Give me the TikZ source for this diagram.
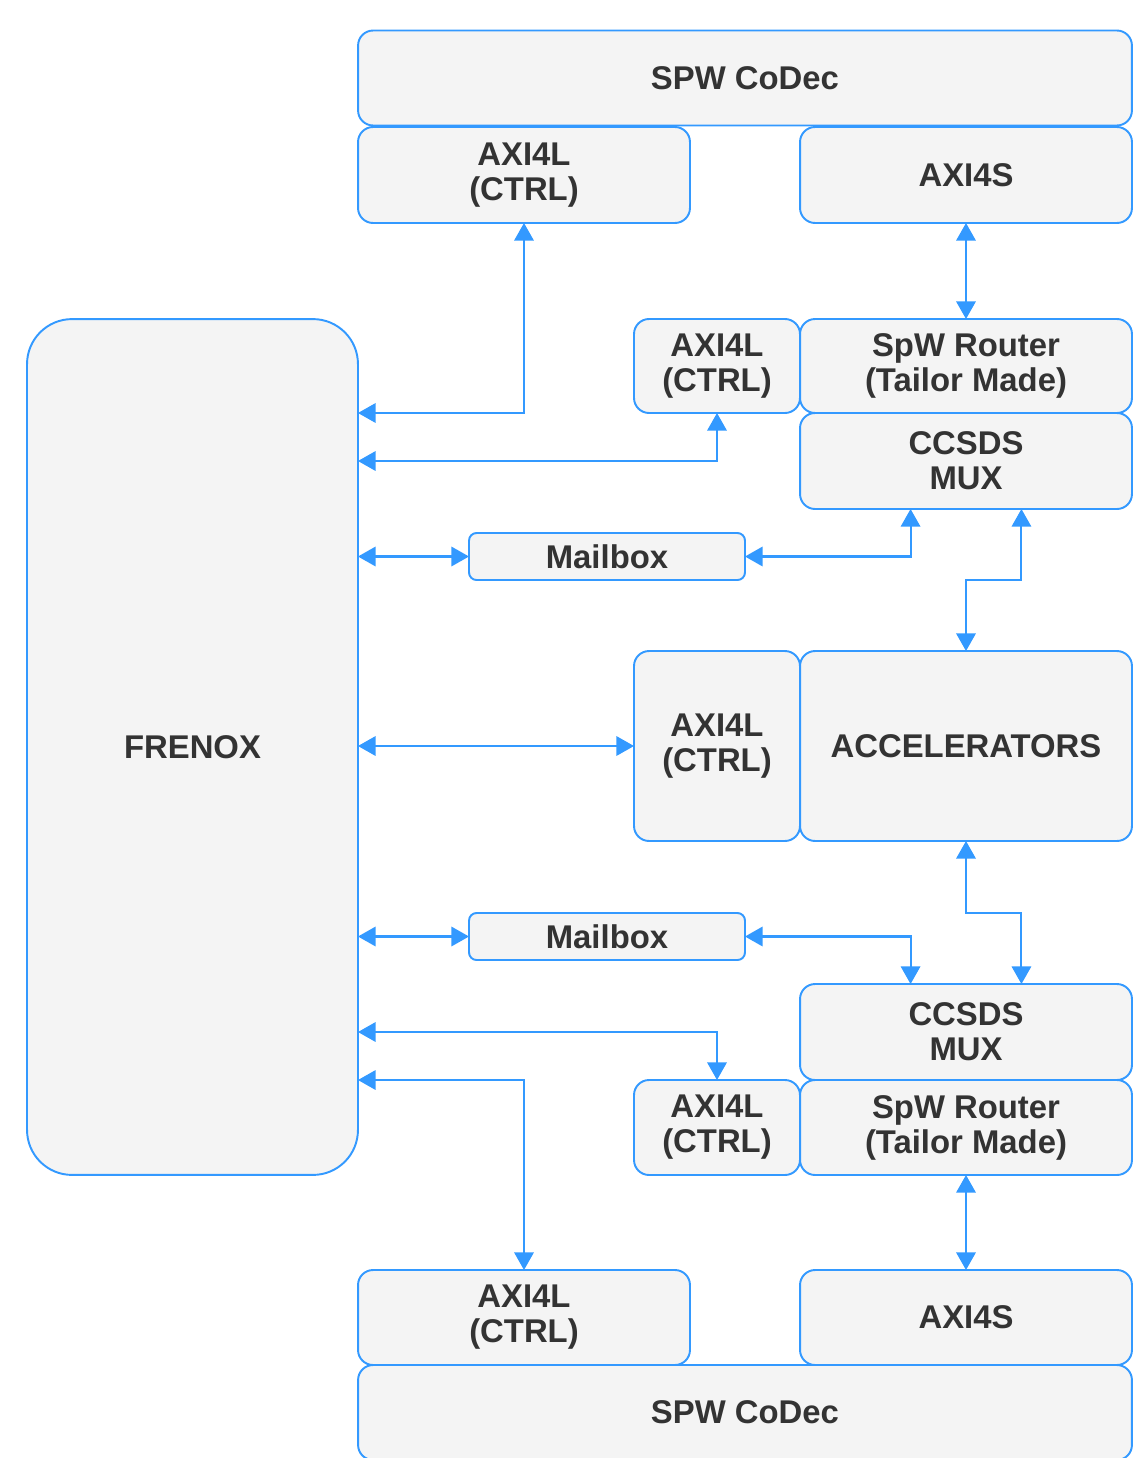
\documentclass[tikz,border=0pt]{standalone}
\usepackage{fontspec}
\setmainfont{Liberation Sans}
\usetikzlibrary{arrows.meta, positioning, calc}
\definecolor{edgeblue}{HTML}{3399FF}
\definecolor{boxfill}{HTML}{F4F4F4}
\definecolor{txtgray}{HTML}{333333}

\begin{document}
\begin{tikzpicture}[x=0.02cm, y=-0.02cm,
    blk/.style={draw=edgeblue, line width=1.1pt, fill=boxfill, rounded corners=0.3cm,
      text=txtgray, font=\fontsize{18.7}{20}\selectfont\bfseries, align=center,
      inner sep=0pt, outer sep=0pt},
    link/.style={draw=edgeblue, line width=1.2pt,
      {Triangle[length=10pt, width=11pt]}-{Triangle[length=10pt, width=11pt]}}]
      \useasboundingbox (0,0) rectangle (1133,1458);
      % top side
      \node[blk, minimum width=15.48cm, minimum height=1.9cm] (codecT) at (745,78) {SPW CoDec};
      \node[blk, minimum width=6.64cm, minimum height=1.92cm] (axiT) at (524,175) {AXI4L\\(CTRL)};
      \node[blk, minimum width=6.64cm, minimum height=1.92cm] (axisT) at (966,175) {AXI4S};
      \node[blk, minimum width=3.32cm, minimum height=1.88cm] (axiA) at (717,366) {AXI4L\\(CTRL)};
      \node[blk, minimum width=6.64cm, minimum height=1.88cm] (routerT) at (966,366) {SpW Router\\(Tailor Made)};
      \node[blk, minimum width=6.64cm, minimum height=1.92cm] (muxT) at (966,461) {CCSDS\\MUX};
      \node[blk, minimum width=5.52cm, minimum height=0.94cm, rounded corners=0.15cm] (mboxT) at (607,556.5) {Mailbox};
      % middle
      \node[blk, minimum width=6.62cm, minimum height=17.12cm, rounded corners=0.9cm] (frenox) at (192.5,747) {FRENOX};
      \node[blk, minimum width=3.32cm, minimum height=3.8cm] (axiB) at (717,746) {AXI4L\\(CTRL)};
      \node[blk, minimum width=6.64cm, minimum height=3.8cm] (accel) at (966,746) {ACCELERATORS};
      % bottom side
      \node[blk, minimum width=5.52cm, minimum height=0.94cm, rounded corners=0.15cm] (mboxB) at (607,936.5) {Mailbox};
      \node[blk, minimum width=6.64cm, minimum height=1.92cm] (muxB) at (966,1032) {CCSDS\\MUX};
      \node[blk, minimum width=3.32cm, minimum height=1.9cm] (axiC) at (717,1127.5) {AXI4L\\(CTRL)};
      \node[blk, minimum width=6.64cm, minimum height=1.9cm] (routerB) at (966,1127.5) {SpW Router\\(Tailor Made)};
      \node[blk, minimum width=6.64cm, minimum height=1.9cm] (axiD) at (524,1317.5) {AXI4L\\(CTRL)};
      \node[blk, minimum width=6.64cm, minimum height=1.9cm] (axisB) at (966,1317.5) {AXI4S};
      \node[blk, minimum width=15.48cm, minimum height=1.9cm] (codecB) at (745,1412.5) {SPW CoDec};

      \coordinate (muxTa) at ($(muxT.south west)!0.333!(muxT.south east)$);
      \coordinate (muxTb) at ($(muxT.south west)!0.667!(muxT.south east)$);
      \coordinate (muxBa) at ($(muxB.north west)!0.333!(muxB.north east)$);
      \coordinate (muxBb) at ($(muxB.north west)!0.667!(muxB.north east)$);

      \draw[link] (axiT.south) |- (frenox.east |- axiA.south);
      \draw[link] (axiA.south) |- (frenox.east |- muxT.west);
      \draw[link] (axisT.south) -- (routerT.north);
      \draw[link] (frenox.east |- mboxT.west) -- (mboxT.west);
      \draw[link] (mboxT.east) -| (muxTa);
      \draw[link] (muxTb) -- (muxTb |- mboxT.south) -| (accel.north);
      \draw[link] (frenox.east |- axiB.west) -- (axiB.west);
      \draw[link] (accel.south) -- (accel.south |- mboxB.north) -| (muxBb);
      \draw[link] (frenox.east |- mboxB.west) -- (mboxB.west);
      \draw[link] (mboxB.east) -| (muxBa);
      \draw[link] (frenox.east |- muxB.west) -| (axiC.north);
      \draw[link] (frenox.east |- axiC.north) -| (axiD.north);
      \draw[link] (routerB.south) -- (axisB.north);
\end{tikzpicture}
\end{document}
